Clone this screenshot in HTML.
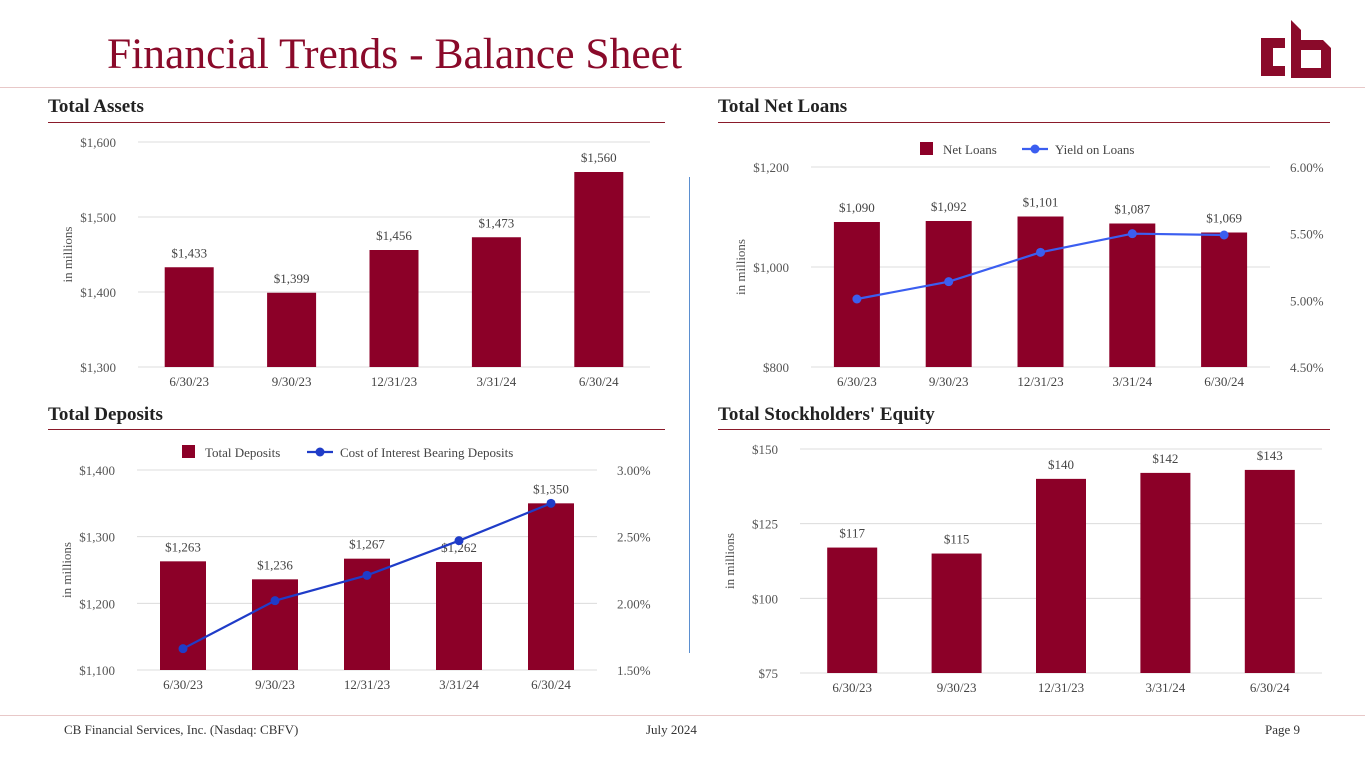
<!DOCTYPE html>
<html><head><meta charset="utf-8"><style>
body{margin:0;width:1365px;height:768px;background:#fff;font-family:"Liberation Serif",serif;position:relative;overflow:hidden}
.abs{position:absolute}
.title{left:107px;top:29px;font-size:43.5px;color:#8a0a2a;white-space:nowrap}
.sec{font-weight:bold;font-size:19px;color:#222;white-space:nowrap}
.rule{height:1px;background:#8a1a2a}
.foot{font-size:13px;color:#333;top:722px;white-space:nowrap}
svg text{font-family:"Liberation Serif",serif}
</style></head><body>
<div class="abs title">Financial Trends - Balance Sheet</div>
<svg class="abs" style="left:1258px;top:16px" width="76" height="62">
<path d="M3 22 h24 v10 h-12 v18 h12 v10 h-24z" fill="#8a0a2a"/>
<path d="M33 4 l10 10 v10 h22 l8 8 v30 h-40z M43 34 v18 h20 v-18z" fill="#8a0a2a" fill-rule="evenodd"/>
</svg>
<div class="abs" style="left:0;top:87px;width:1365px;height:1px;background:#e8c8c8"></div>
<div class="abs sec" style="left:48px;top:96px">Total Assets</div>
<div class="abs rule" style="left:48px;top:122px;width:617px"></div>
<div class="abs sec" style="left:718px;top:96px">Total Net Loans</div>
<div class="abs rule" style="left:718px;top:122px;width:612px"></div>
<div class="abs sec" style="left:48px;top:404px">Total Deposits</div>
<div class="abs rule" style="left:48px;top:429px;width:617px"></div>
<div class="abs sec" style="left:718px;top:404px">Total Stockholders' Equity</div>
<div class="abs rule" style="left:718px;top:429px;width:612px"></div>
<div class="abs" style="left:689px;top:177px;width:1px;height:476px;background:#5b8fd0"></div>
<div class="abs" style="left:0;top:715px;width:1365px;height:1px;background:#e8c8c8"></div>
<div class="abs foot" style="left:64px">CB Financial Services, Inc. (Nasdaq: CBFV)</div>
<div class="abs foot" style="left:646px">July 2024</div>
<div class="abs foot" style="left:1265px">Page 9</div>
<svg id="chart" class="abs" style="left:0;top:0" width="1365" height="768"></svg>
<script>
const categories=["6/30/23","9/30/23","12/31/23","3/31/24","6/30/24"];
const assetValues=[1433,1399,1456,1473,1560];
const assetTicks=[1300,1400,1500,1600];
const loanValues=[1090,1092,1101,1087,1069];
const loanYield=[5.01,5.14,5.36,5.50,5.49];
const loanTicks=[800,1000,1200];
const loanYieldTicks=[4.5,5.0,5.5,6.0];
const depositValues=[1263,1236,1267,1262,1350];
const depositCost=[1.66,2.02,2.21,2.47,2.75];
const depositTicks=[1100,1200,1300,1400];
const depositCostTicks=[1.5,2.0,2.5,3.0];
const equityValues=[117,115,140,142,143];
const equityTicks=[75,100,125,150];

const svg=document.getElementById('chart');
const NS="http://www.w3.org/2000/svg";
function mk(tag,attrs,txt){const e=document.createElementNS(NS,tag);for(const k in attrs)e.setAttribute(k,attrs[k]);if(txt!==undefined)e.textContent=txt;svg.appendChild(e);return e;}
function fmt(v){return '$'+v.toLocaleString('en-US');}
function chart(c){
  const n=categories.length,bw=(c.x1-c.x0)/n;
  const y=v=>c.yb-(v-c.tmin)/(c.tmax-c.tmin)*(c.yb-c.yt);
  c.ticks.forEach(t=>{
    const g=mk('line',{x1:c.x0,x2:c.x1,y1:y(t),y2:y(t),stroke:'#dcdcdc','stroke-width':1});
    
    const l=mk('text',{x:c.x0-22,y:y(t)+5,'text-anchor':'end','font-size':13,fill:'#555'},fmt(t));
    
  });
  const yt=mk('text',{x:0,y:0,'font-size':13,fill:'#555','text-anchor':'middle',transform:`translate(${c.x0-66},${(c.yt+c.yb)/2}) rotate(-90)`},'in millions');
  
  c.values.forEach((v,i)=>{
    const cx=c.x0+bw*(i+0.5);
    const r=mk('rect',{x:cx-c.w/2,y:y(v),width:c.w,height:c.yb-y(v),fill:'#8c0028'});
    
    const t=mk('text',{x:cx,y:y(v)-10,'text-anchor':'middle','font-size':13,fill:'#444'},fmt(v));
    
    const xl=mk('text',{x:cx,y:c.yb+19,'text-anchor':'middle','font-size':13,fill:'#444'},categories[i]);
    
  });
  if(c.line){
    const y2=v=>c.yb-(v-c.r2[0])/(c.r2[c.r2.length-1]-c.r2[0])*(c.yb-c.yt);
    c.r2.forEach(t=>{
      const l=mk('text',{x:c.x1+20,y:y2(t)+5,'font-size':13,fill:'#555'},t.toFixed(2)+'%');
      
    });
    const pts=c.line.map((v,i)=>[c.x0+bw*(i+0.5),y2(v)]);
    const p=mk('polyline',{points:pts.map(p=>p.join(',')).join(' '),fill:'none',stroke:c.lc,'stroke-width':2.2});
    
    pts.forEach(q=>{const d=mk('circle',{cx:q[0],cy:q[1],r:4.5,fill:c.lc});
      });
    const lx=c.lx;
    const a=mk('rect',{x:lx,y:c.ly-7,width:13,height:13,fill:'#8c0028'});
    
    const b=mk('text',{x:lx+23,y:c.ly+5,'font-size':13,fill:'#444'},c.l1);
    
    const ll=mk('line',{x1:c.lx2,x2:c.lx2+26,y1:c.ly,y2:c.ly,stroke:c.lc,'stroke-width':2.2});
    
    const lc=mk('circle',{cx:c.lx2+13,cy:c.ly,r:4.5,fill:c.lc});
    
    const ld=mk('text',{x:c.lx2+33,y:c.ly+5,'font-size':13,fill:'#444'},c.l2);
    
  }
}
chart({name:'assets',x0:138,x1:650,yt:142,yb:367,tmin:1300,tmax:1600,ticks:assetTicks,values:assetValues,w:49});
chart({name:'loans',x0:811,x1:1270,yt:167,yb:367,tmin:800,tmax:1200,ticks:loanTicks,values:loanValues,w:46,
  line:loanYield,r2:loanYieldTicks,lc:'#3b5ef0',lx:920,ly:149,lx2:1022,l1:'Net Loans',l2:'Yield on Loans'});
chart({name:'deposits',x0:137,x1:597,yt:470,yb:670,tmin:1100,tmax:1400,ticks:depositTicks,values:depositValues,w:46,
  line:depositCost,r2:depositCostTicks,lc:'#1f3cc8',lx:182,ly:452,lx2:307,l1:'Total Deposits',l2:'Cost of Interest Bearing Deposits'});
chart({name:'equity',x0:800,x1:1322,yt:449,yb:673,tmin:75,tmax:150,ticks:equityTicks,values:equityValues,w:50});
</script>
</body></html>
